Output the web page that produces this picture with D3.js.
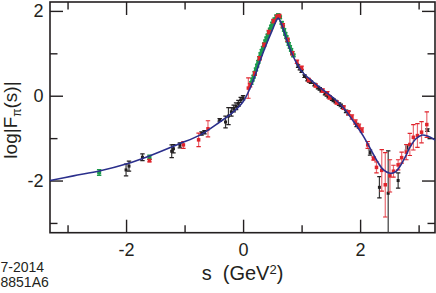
<!DOCTYPE html>
<html>
<head>
<meta charset="utf-8">
<script src="https://cdn.jsdelivr.net/npm/d3@7"></script>
<style>
  body { margin: 0; background: #fff; }
  svg text { font-family: "Liberation Sans", Arial, Helvetica, sans-serif; fill: #231f20; }
  .axis line { stroke: #231f20; stroke-width: 1.4; }
  .axis path { display: none; }
</style>
</head>
<body>
<div id="graph"></div>
<script>
/*
    log|F_pi(s)| versus s, data points with error bars and a fit curve
*/

// tick values
var xMajor = [-2, 0, 2],
    xMinor = [-3, -1, 1, 3],
    yMajor = [-2, 0, 2],
    yMinor = [-3, -1, 1]

// fit curve, [s, log|F|]
var curvePts = [
    [-3.3, -2.00], [-2.9, -1.89], [-2.44, -1.77], [-2.0, -1.61], [-1.6, -1.42],
    [-1.1, -1.14], [-0.74, -0.93], [-0.4, -0.62], [-0.2, -0.42], [0.0, -0.14],
    [0.12, 0.18], [0.2, 0.46], [0.3, 0.86], [0.4, 1.22], [0.5, 1.55],
    [0.56, 1.75], [0.6, 1.83], [0.64, 1.75], [0.7, 1.52], [0.78, 1.18],
    [0.88, 0.86], [1.0, 0.58], [1.2, 0.32], [1.37, 0.13], [1.55, -0.06],
    [1.7, -0.26], [1.8, -0.44], [1.9, -0.63], [2.05, -0.94], [2.2, -1.31],
    [2.3, -1.56], [2.4, -1.75], [2.51, -1.83], [2.6, -1.80], [2.68, -1.67],
    [2.77, -1.45], [2.85, -1.22], [2.95, -1.02], [3.05, -0.93], [3.15, -0.95],
    [3.3, -1.06]
]

// data points, [s, log|F|, error]
var blackPts = [
    [-2.0, -1.75, 0.14], [-1.95, -1.66, 0.12], [-1.72, -1.45, 0.08],
    [-1.22, -1.31, 0.15], [-1.19, -1.25, 0.10], [-1.08, -1.17, 0.06],
    [-0.71, -0.89, 0.04], [-0.66, -0.86, 0.04], [-0.40, -0.57, 0.03],
    [-0.30, -0.62, 0.14], [-0.25, -0.48, 0.20], [-0.20, -0.38, 0.10],
    [-0.16, -0.30, 0.08], [-0.12, -0.25, 0.08], [-0.08, -0.18, 0.07],
    [-0.04, -0.10, 0.06], [0.0, -0.05, 0.05],
    [0.94, 0.70, 0.03], [0.97, 0.64, 0.03], [1.00, 0.58, 0.03], [1.05, 0.46, 0.03],
    [1.10, 0.38, 0.03], [1.13, 0.35, 0.03], [1.16, 0.32, 0.03], [1.22, 0.26, 0.03],
    [1.28, 0.19, 0.03], [1.31, 0.16, 0.03], [1.34, 0.12, 0.03], [1.40, 0.05, 0.03],
    [1.43, 0.02, 0.03], [1.46, -0.02, 0.03], [1.52, -0.08, 0.03], [1.55, -0.11, 0.03],
    [1.58, -0.14, 0.03], [1.64, -0.20, 0.03], [1.67, -0.23, 0.03], [1.70, -0.27, 0.03],
    [1.76, -0.37, 0.03], [1.80, -0.41, 0.04],
    [1.94, -0.69, 0.04], [2.17, -1.34, 0.06], [2.33, -2.16, 0.25], [2.48, -2.30, 1.00],
    [2.65, -2.00, 0.18], [2.80, -1.22, 0.06], [3.15, -0.81, 0.03]
]

var redPts = [
    [-1.60, -1.53, 0.03], [-1.02, -1.16, 0.08], [-0.76, -1.04, 0.16], [-0.60, -0.78, 0.19],
    [0.09, 0.18, 0.24],
    [0.12, 0.25, 0.04], [0.20, 0.52, 0.04], [0.28, 0.88, 0.04], [0.36, 1.20, 0.04],
    [0.44, 1.50, 0.04], [0.52, 1.76, 0.04], [0.58, 1.86, 0.04], [0.62, 1.88, 0.04],
    [0.68, 1.66, 0.04], [0.76, 1.32, 0.04], [0.84, 1.00, 0.04], [0.92, 0.80, 0.04],
    [1.0, 0.66, 0.04], [1.12, 0.37, 0.04], [1.24, 0.24, 0.04], [1.36, 0.12, 0.04],
    [1.44, 0.06, 0.04], [1.48, -0.04, 0.04], [1.60, -0.16, 0.04], [1.72, -0.28, 0.04],
    [1.80, -0.40, 0.05], [1.86, -0.50, 0.05], [1.92, -0.62, 0.05], [1.98, -0.72, 0.05],
    [2.03, -0.81, 0.05], [2.13, -1.16, 0.08], [2.23, -1.48, 0.04], [2.28, -1.69, 0.13],
    [2.37, -1.76, 0.49], [2.43, -2.10, 0.76], [2.51, -1.89, 0.38], [2.57, -1.78, 0.14],
    [2.65, -1.63, 0.12], [2.71, -1.46, 0.13], [2.79, -1.33, 0.18], [2.85, -1.15, 0.26],
    [2.91, -0.98, 0.30], [2.98, -0.94, 0.28], [3.05, -0.86, 0.25], [3.14, -0.68, 0.30]
]

var greenPts = [
    [-2.46, -1.81, 0.07], [-1.60, -1.45, 0.05],
    [0.14, 0.30, 0.03], [0.16, 0.38, 0.03], [0.18, 0.45, 0.03], [0.20, 0.54, 0.03],
    [0.22, 0.62, 0.03], [0.24, 0.71, 0.03], [0.26, 0.80, 0.03], [0.28, 0.89, 0.03],
    [0.30, 0.98, 0.03], [0.32, 1.06, 0.03], [0.34, 1.13, 0.03], [0.36, 1.21, 0.03],
    [0.38, 1.28, 0.03], [0.40, 1.35, 0.03], [0.42, 1.42, 0.03], [0.44, 1.49, 0.03],
    [0.46, 1.56, 0.03], [0.48, 1.63, 0.03], [0.50, 1.70, 0.03], [0.52, 1.75, 0.03],
    [0.54, 1.80, 0.03], [0.57, 1.87, 0.03], [0.60, 1.90, 0.03], [0.63, 1.85, 0.03],
    [0.66, 1.72, 0.03], [0.68, 1.63, 0.03], [0.70, 1.55, 0.03], [0.72, 1.46, 0.03],
    [0.74, 1.38, 0.03], [0.76, 1.30, 0.03], [0.78, 1.22, 0.03], [0.80, 1.15, 0.03],
    [0.82, 1.08, 0.03], [0.84, 1.01, 0.03], [0.86, 0.95, 0.03]
]

/*
    Set the dimensions of the graph
*/
var W = 436, H = 293
var plot = {left: 50, right: 435, top: 2, bottom: 232.7}

var svg = d3.select("#graph").append("svg")
            .attr("width", W)
            .attr("height", H)

var x = d3.scaleLinear().domain([-3.3, 3.28]).range([plot.left, plot.right]),
    y = d3.scaleLinear().domain([-3.23, 2.21]).range([plot.bottom, plot.top])

svg.append("clipPath").attr("id", "clip")
    .append("rect")
    .attr("x", plot.left).attr("y", plot.top)
    .attr("width", plot.right - plot.left)
    .attr("height", plot.bottom - plot.top)

var minus = function (d) { return d < 0 ? "-" + Math.abs(d) : "" + d }

// Axes, ticks inward on all four sides
function addAxis(axis, tx, ty) {
    return svg.append("g")
        .attr("class", "axis")
        .attr("transform", "translate(" + tx + "," + ty + ")")
        .call(axis)
}

addAxis(d3.axisBottom(x).tickValues(xMajor).tickSize(-13).tickPadding(10.5).tickFormat(minus), 0, plot.bottom)
addAxis(d3.axisBottom(x).tickValues(xMinor).tickSize(-7.5).tickFormat(""), 0, plot.bottom)
addAxis(d3.axisTop(x).tickValues(xMajor).tickSize(-13).tickFormat(""), 0, plot.top)
addAxis(d3.axisTop(x).tickValues(xMinor).tickSize(-7.5).tickFormat(""), 0, plot.top)
addAxis(d3.axisLeft(y).tickValues(yMajor).tickSize(-13).tickPadding(6.5).tickFormat(minus), plot.left, 0)
addAxis(d3.axisLeft(y).tickValues(yMinor).tickSize(-7.5).tickFormat(""), plot.left, 0)
addAxis(d3.axisRight(y).tickValues(yMajor).tickSize(-13).tickFormat(""), plot.right, 0)
addAxis(d3.axisRight(y).tickValues(yMinor).tickSize(-7.5).tickFormat(""), plot.right, 0)

svg.selectAll(".axis text")
    .style("font-size", "18px")
    .attr("fill", "#231f20")

// Frame
svg.append("rect")
    .attr("x", plot.left).attr("y", plot.top)
    .attr("width", plot.right - plot.left)
    .attr("height", plot.bottom - plot.top)
    .attr("fill", "none")
    .attr("stroke", "#231f20")
    .attr("stroke-width", 1.6)

// Data points with error bars
var layer = svg.append("g").attr("clip-path", "url(#clip)")

function drawPoints(pts, color, barColor, size) {
    var g = layer.append("g")
    var pt = g.selectAll("g").data(pts).enter().append("g")
    pt.append("line")
        .attr("x1", function (d) { return x(d[0]) })
        .attr("x2", function (d) { return x(d[0]) })
        .attr("y1", function (d) { return y(d[1] - d[2]) })
        .attr("y2", function (d) { return y(d[1] + d[2]) })
        .attr("stroke", barColor).attr("stroke-width", 1.2)
    pt.selectAll(".cap")
        .data(function (d) { return [[d[0], d[1] - d[2]], [d[0], d[1] + d[2]]] })
        .enter().append("line")
        .attr("x1", function (d) { return x(d[0]) - 2.2 })
        .attr("x2", function (d) { return x(d[0]) + 2.2 })
        .attr("y1", function (d) { return y(d[1]) })
        .attr("y2", function (d) { return y(d[1]) })
        .attr("stroke", color).attr("stroke-width", 1.2)
    pt.append("rect")
        .attr("x", function (d) { return x(d[0]) - size / 2 })
        .attr("y", function (d) { return y(d[1]) - size / 2 })
        .attr("width", size).attr("height", size)
        .attr("fill", color)
}

drawPoints(blackPts, "#231f20", "#3a3a3a", 3)
drawPoints(greenPts, "#1c9a4c", "#1c9a4c", 4)
drawPoints(redPts, "#e0242c", "#ea6a72", 3.5)

// Fit curve
var line = d3.line()
    .x(function (d) { return x(d[0]) })
    .y(function (d) { return y(d[1]) })
    .curve(d3.curveCatmullRom)

layer.append("path")
    .attr("d", line(curvePts))
    .attr("fill", "none")
    .attr("stroke", "#2b2f8c")
    .attr("stroke-width", 1.6)

// Axis titles
svg.append("text")
    .attr("transform", "translate(17,120) rotate(-90)")
    .attr("text-anchor", "middle")
    .style("font-size", "19px")
    .html('log|F<tspan baseline-shift="-30%" font-size="12px">π</tspan>(s)|')

svg.append("text")
    .attr("x", 242.5).attr("y", 280)
    .attr("text-anchor", "middle")
    .style("font-size", "20px")
    .html('s\u00a0\u00a0(GeV<tspan baseline-shift="45%" font-size="13px">2</tspan>)')

// Figure id
svg.append("text").attr("x", 0.5).attr("y", 271.5).style("font-size", "14px").text("7-2014")
svg.append("text").attr("x", 0.5).attr("y", 286.5).style("font-size", "14px").text("8851A6")
</script>
</body>
</html>
